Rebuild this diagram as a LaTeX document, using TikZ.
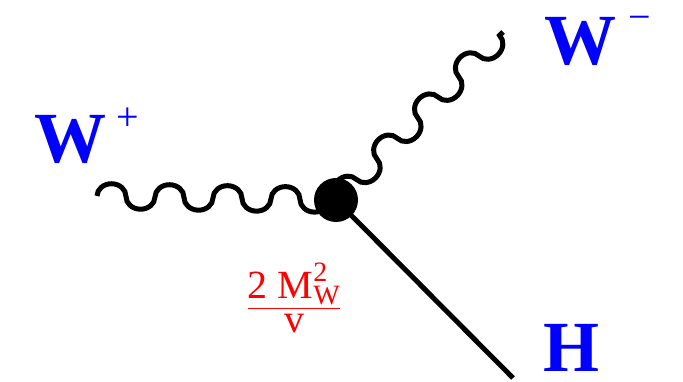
\documentclass[tikz,border=0pt]{standalone}
\usepackage{amsmath}
\usepackage{fontspec}
\setmainfont{Liberation Serif}
\usepackage{tikz}
\usetikzlibrary{decorations}

% wave made of half ellipses, one up, one down
\pgfdeclaredecoration{halfarcs}{up}{
  \state{up}[switch if less than=.5\pgfdecorationsegmentlength to final,
             width=.5\pgfdecorationsegmentlength, next state=down]{
    \pgfmathsetlengthmacro\hw{.25*\pgfdecorationsegmentlength}
    \pgfpathcurveto{\pgfpoint{0pt}{.552*\pgfdecorationsegmentamplitude}}
                   {\pgfpoint{.448*\hw}{\pgfdecorationsegmentamplitude}}
                   {\pgfpoint{\hw}{\pgfdecorationsegmentamplitude}}
    \pgfpathcurveto{\pgfpoint{1.552*\hw}{\pgfdecorationsegmentamplitude}}
                   {\pgfpoint{2*\hw}{.552*\pgfdecorationsegmentamplitude}}
                   {\pgfpoint{2*\hw}{0pt}}
  }
  \state{down}[switch if less than=.5\pgfdecorationsegmentlength to final,
               width=.5\pgfdecorationsegmentlength, next state=up]{
    \pgfmathsetlengthmacro\hw{.25*\pgfdecorationsegmentlength}
    \pgfpathcurveto{\pgfpoint{0pt}{-.552*\pgfdecorationsegmentamplitude}}
                   {\pgfpoint{.448*\hw}{-\pgfdecorationsegmentamplitude}}
                   {\pgfpoint{\hw}{-\pgfdecorationsegmentamplitude}}
    \pgfpathcurveto{\pgfpoint{1.552*\hw}{-\pgfdecorationsegmentamplitude}}
                   {\pgfpoint{2*\hw}{-.552*\pgfdecorationsegmentamplitude}}
                   {\pgfpoint{2*\hw}{0pt}}
  }
  \state{final}{\pgfpathlineto{\pgfpointdecoratedpathlast}}
}

\begin{document}
\begin{tikzpicture}[
  x=1pt, y=1pt,
  wline/.style={decorate, decoration={halfarcs, segment length=58pt, amplitude=12.5pt}, line width=5pt},
  hline/.style={line width=5pt},
  blob/.style={circle, fill=black, minimum size=44pt, inner sep=0pt},
  lbl/.style={text=blue, font=\fontsize{72}{80}\selectfont\bfseries, inner sep=0pt, text depth=0pt, anchor=base west},
  cpl/.style={text=red, font=\fontsize{40}{44}\selectfont, inner sep=0pt, anchor=base}
]
  \useasboundingbox (0,0) rectangle (683,382);
  % vertex and outer legs
  \coordinate (v) at (336,182);
  \coordinate (wp) at (97,186);
  \coordinate (wm) at (503,350);
  \coordinate (h) at (513,4);
  \draw[wline] (wp) -- (v);
  \draw[wline] (v) -- (wm);
  \draw[hline] (v) -- (h);
  \node[blob] (vx) at (v) {};
  % labels
  \node[lbl] (lwp) at (34,219) {W\hspace{10pt}\raisebox{32pt}{\fontsize{40}{40}\selectfont\mdseries +}};
  \node[lbl] (lwm) at (544,317) {W\hspace{12pt}\raisebox{34pt}{\fontsize{40}{40}\selectfont\mdseries −}};
  \node[lbl] (lh) at (543,10) {H};
  \node[cpl] (g) at (294,67) {$\dfrac{\text{2 M}^{\text{2}}_{\text{W}}}{\text{v}}$};
\end{tikzpicture}
\end{document}
